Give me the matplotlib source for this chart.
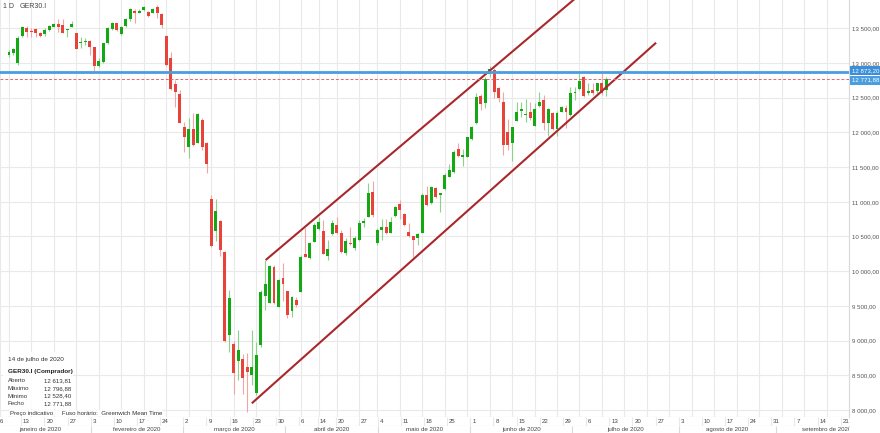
import numpy as np
import pandas as pd
import matplotlib
matplotlib.use("Agg")
import matplotlib.pyplot as plt
from matplotlib.patches import Rectangle
from matplotlib.transforms import blended_transform_factory

plt.rcParams['font.family'] = ['Liberation Sans', 'DejaVu Sans']

# GER30.I daily candles, 6 jan -> 14 jul 2020
opens = [13110, 13140, 12996, 13394, 13510, 13466, 13490, 13438, 13414, 13476,
         13524, 13562, 13548, 13476, 13524, 13428, 13284, 13298, 13322, 13226,
         12958, 13020, 13284, 13486, 13572, 13418, 13534, 13630, 13750, 13716,
         13764, 13740, 13726, 13812, 13700, 13390, 13068, 12694, 12550, 12084,
         11796, 12046, 11854, 12180, 11844, 11042, 10572, 10716, 10274, 9074,
         8950, 8706, 8740, 8615, 8506, 8242, 8930, 9640, 9546, 10056,
         9488, 9897, 9714, 9431, 9585, 9696, 10248, 10186, 10425, 10604,
         10580, 10219, 10536, 10665, 10546, 10258, 10402, 10330, 10450, 10690,
         10776, 11145, 10410, 10594, 10632, 10555, 10795, 10968, 10824, 10569,
         10507, 10474, 10555, 11098, 10987, 11194, 11098, 11180, 11362, 11434,
         11756, 11650, 11641, 11900, 12131, 12525, 12419, 12840, 12905, 12635,
         12442, 12010, 11843, 12169, 12313, 12250, 12289, 12097, 12381, 12467,
         12140, 12275, 12045, 12298, 12347, 12251, 12563, 12621, 12803, 12572,
         12611, 12601, 12716, 12613.81]
highs = [13190, 13215, 13390, 13535, 13535, 13500, 13500, 13452, 13500, 13548,
         13582, 13630, 13634, 13495, 13610, 13430, 13370, 13355, 13332, 13236,
         13068, 13294, 13514, 13596, 13582, 13534, 13644, 13788, 13774, 13774,
         13822, 13754, 13788, 13836, 13716, 13410, 13164, 12756, 12612, 12156,
         12204, 12276, 12276, 12204, 11868, 11100, 11038, 10740, 10284, 9732,
         8990, 9150, 8810, 8817, 9150, 8980, 9730, 10161, 10090, 10090,
         9890, 10118, 9714, 9640, 9630, 10240, 10618, 10425, 10690, 10785,
         10738, 10449, 10738, 10785, 10594, 10474, 10631, 10500, 10738, 10762,
         11275, 11300, 10620, 10748, 10748, 10785, 10940, 11026, 10834, 10699,
         10507, 10555, 11120, 11228, 11228, 11210, 11131, 11410, 11545, 11746,
         11843, 11756, 11940, 12092, 12563, 12560, 12803, 12950, 12924, 12660,
         12587, 12193, 12082, 12442, 12442, 12477, 12442, 12419, 12587, 12539,
         12347, 12290, 12313, 12381, 12395, 12659, 12659, 12851, 12813, 12707,
         12707, 12717, 12861, 12796.88]
lows = [13090, 13115, 12972, 13380, 13380, 13380, 13370, 13380, 13394, 13466,
        13514, 13442, 13428, 13380, 13520, 13195, 13220, 13260, 13116, 12890,
        12948, 12996, 13274, 13476, 13466, 13408, 13524, 13610, 13582, 13716,
        13754, 13668, 13716, 13644, 13500, 12960, 12612, 12362, 12132, 11718,
        11628, 11806, 11844, 11748, 11412, 10346, 10428, 10222, 8974, 8830,
        8236, 8434, 8230, 7972, 8360, 8216, 8910, 9445, 9540, 9530,
        9480, 9570, 9330, 9340, 9490, 9696, 10209, 10171, 10425, 10593,
        10248, 10161, 10522, 10536, 10267, 10233, 10380, 10300, 10440, 10641,
        10776, 10780, 10375, 10449, 10536, 10546, 10785, 10748, 10650, 10497,
        10209, 10377, 10555, 10939, 10970, 11060, 10857, 11170, 11353, 11420,
        11650, 11516, 11641, 11890, 12121, 12323, 12347, 12800, 12490, 12440,
        11673, 11746, 11592, 12160, 12218, 12154, 12179, 12092, 12360, 12034,
        11948, 12030, 11948, 12290, 12063, 12240, 12467, 12610, 12515, 12539,
        12539, 12539, 12539, 12528.40]
closes = [13165, 13198, 13356, 13514, 13442, 13452, 13438, 13394, 13476, 13538,
          13562, 13514, 13428, 13490, 13562, 13198, 13308, 13310, 13236, 12958,
          13030, 13284, 13500, 13572, 13476, 13524, 13630, 13774, 13726, 13750,
          13802, 13682, 13774, 13726, 13548, 12972, 12622, 12588, 12142, 11930,
          12046, 11820, 12266, 11786, 11542, 10356, 10874, 10308, 8988, 9612,
          8540, 8870, 8458, 8553, 8615, 8792, 9704, 9816, 10075, 9537,
          9873, 9816, 9369, 9624, 9513, 10209, 10209, 10402, 10665, 10713,
          10248, 10316, 10699, 10546, 10281, 10440, 10392, 10478, 10699, 10728,
          11131, 10809, 10594, 10641, 10546, 10713, 10929, 10882, 10666, 10507,
          10449, 10536, 11098, 10954, 11209, 11073, 11131, 11386, 11458, 11722,
          11660, 11674, 11929, 12082, 12514, 12409, 12765, 12915, 12580, 12491,
          11818, 11818, 12082, 12298, 12337, 12265, 12203, 12337, 12442, 12140,
          12333, 12045, 12284, 12362, 12298, 12563, 12587, 12745, 12524, 12597,
          12572, 12707, 12563, 12771.88]

holidays = ["2020-04-10", "2020-04-13", "2020-05-01"]
month_names = ["janeiro de 2020", "fevereiro de 2020", "março de 2020",
               "abril de 2020", "maio de 2020", "junho de 2020",
               "julho de 2020", "agosto de 2020", "setembro de 2020"]
y_ticks = np.arange(8000, 13501, 500)

price_line = 12873.20      # linha horizontal azul
last_close = 12771.88      # fecho (linha tracejada)

# canal desenhado a mao (indice do dia, preco)
upper_x, upper_y = [57.15, 127.0], [10161, 13982]
lower_x, lower_y = [54.05, 144.05], [8096, 13292]

info_date = "14 de julho de 2020"
info_title = "GER30.I (Comprador)"
info_rows = ["Aberto", "Máximo", "Mínimo", "Fecho"]
info_vals = [12613.81, 12796.88, 12528.40, 12771.88]


def fmt(v):
    return f"{v:,.2f}".replace(",", " ").replace(".", ",")


# calendario de negociacao, indice 0 = 6 jan
cal = pd.bdate_range("2020-01-02", "2020-10-02")
cal = cal[~cal.isin(pd.to_datetime(holidays))]
pos = np.arange(len(cal)) - 2
wk = np.asarray(cal.isocalendar().week)
week_first = np.r_[True, wk[1:] != wk[:-1]]
mon = np.asarray(cal.month)
month_first = np.r_[True, mon[1:] != mon[:-1]]
month_pos = pos[month_first]

W, H = 880, 433
fig = plt.figure(figsize=(W / 100, H / 100), dpi=100)
ax = fig.add_axes([0, 16 / H, 849 / W, 417 / H])
axt = fig.add_axes([0, 7.5 / H, 849 / W, 8.5 / H])
axm = fig.add_axes([0, 0, 849 / W, 7.5 / H])

xlim = (0.417, 183.78)
grid_c = "#e9e9e9"

o, h, l, c = map(np.array, (opens, highs, lows, closes))
x = np.arange(len(o))
up = c >= o
ax.vlines(x[up], l[up], h[up], color="#8bd28b", lw=0.8, zorder=2)
ax.vlines(x[~up], l[~up], h[~up], color="#f2a5a5", lw=0.8, zorder=2)
body = np.maximum(np.abs(c - o), 12)
ax.bar(x, body, bottom=np.minimum(o, c), width=0.66,
       color=np.where(up, "#14a814", "#e8433a"), lw=0, zorder=3)

ax.plot(upper_x, upper_y, color="#a8282c", lw=1.5, zorder=5, solid_capstyle="butt")
ax.plot(lower_x, lower_y, color="#a8282c", lw=1.5, zorder=5, solid_capstyle="butt")
ax.axhline(price_line, color="#4a9ee0", lw=2.0, zorder=6)
ax.axhline(last_close, color="#e06868", lw=0.7, dashes=(3, 2), zorder=6)

ax.set_xlim(*xlim)
ax.set_ylim(7898.8, 13907.8)
ax.set_xticks(pos[week_first])
ax.set_yticks(y_ticks)
ax.set_yticklabels([fmt(v) for v in y_ticks])
ax.grid(color=grid_c, lw=0.8, zorder=0)
ax.set_axisbelow(True)
ax.tick_params(axis="x", length=0, labelbottom=False)
ax.tick_params(axis="y", length=0, pad=2.4, labelsize=4.4, labelcolor="#555555",
               labelright=True, labelleft=False)
for s in ["top", "left"]:
    ax.spines[s].set_visible(False)
for s in ["bottom", "right"]:
    ax.spines[s].set_color("#dadada")
    ax.spines[s].set_linewidth(0.8)

# etiquetas dos precos no eixo direito
tr = blended_transform_factory(ax.transAxes, ax.transData)
ax.text(1.003, price_line + 15, fmt(price_line), transform=tr, fontsize=4.4, color="white",
        va="center", ha="left", clip_on=False,
        bbox=dict(boxstyle="square,pad=0.3", fc="#3b8fd9", ec="none"))
ax.text(1.003, last_close - 20, fmt(last_close), transform=tr, fontsize=4.4, color="white",
        va="center", ha="left", clip_on=False,
        bbox=dict(boxstyle="square,pad=0.3", fc="#4a9ee0", ec="none"))


def pxy(xp, yp):
    return xp / 849, 1 - yp / 417


# titulo
ax.text(*pxy(3.3, 6), "1 D", transform=ax.transAxes, fontsize=5, color="#444444", va="center")
ax.text(*pxy(20, 6), "GER30.I", transform=ax.transAxes, fontsize=5, color="#444444", va="center")

# painel de informacao
ax.add_patch(Rectangle(pxy(3, 409), 70 / 849, 57 / 417, transform=ax.transAxes,
                       fc="white", ec="none", alpha=0.9, zorder=7))
ax.text(*pxy(8, 360), info_date, transform=ax.transAxes, fontsize=4.6, color="#333333",
        va="center", zorder=8)
ax.text(*pxy(8, 372), info_title, transform=ax.transAxes, fontsize=4.6, color="#222222",
        va="center", fontweight="bold", zorder=8)
for k, (lab, val) in enumerate(zip(info_rows, info_vals)):
    yy = 380.5 + k * 7.8
    ax.text(*pxy(8, yy), lab, transform=ax.transAxes, fontsize=4.4, color="#333333",
            va="center", zorder=8)
    ax.text(*pxy(44, yy), fmt(val), transform=ax.transAxes, fontsize=4.4, color="#333333",
            va="center", zorder=8)
ax.text(*pxy(10, 413), "Preço indicativo     Fuso horário:  Greenwich Mean Time",
        transform=ax.transAxes, fontsize=4.4, color="#333333", va="center", zorder=8,
        bbox=dict(boxstyle="square,pad=0.1", fc="white", ec="none", alpha=0.85))

# linha dos dias
axt.set_xlim(*xlim)
axt.set_ylim(0, 1)
axt.vlines(pos[week_first], 0, 1, color=grid_c, lw=0.8)
for p, d in zip(pos[week_first], cal[week_first]):
    if p < 0:
        continue
    axt.text(max(p + 0.4, xlim[0] + 0.05), 0.5, str(d.day), fontsize=4.4, color="#444444",
             va="center", ha="left", clip_on=True)
axt.set_xticks([])
axt.set_yticks([])
for s in ["top", "left", "right"]:
    axt.spines[s].set_visible(False)
axt.spines["bottom"].set_color("#dadada")
axt.spines["bottom"].set_linewidth(0.8)

# linha dos meses
axm.set_xlim(*xlim)
axm.set_ylim(0, 1)
axm.vlines(month_pos, 0, 1, color="#dadada", lw=0.8)
for k, name in enumerate(month_names):
    mid = (month_pos[k] + month_pos[k + 1]) / 2
    axm.text(mid, 0.5, name, fontsize=4.4, color="#444444", va="center", ha="center",
             clip_on=True)
axm.set_xticks([])
axm.set_yticks([])
for s in axm.spines.values():
    s.set_visible(False)

fig.savefig("out.png", dpi=100)
